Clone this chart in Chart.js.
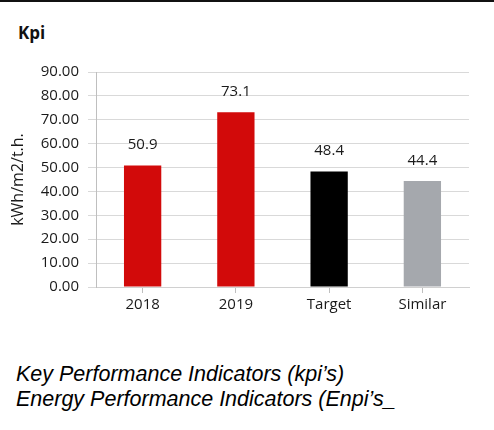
<!DOCTYPE html>
<html>
<head>
<meta charset="utf-8">
<script src="https://cdn.jsdelivr.net/npm/chart.js@4.4.1/dist/chart.umd.min.js"></script>
<style>
  body { margin: 0; background: #fff; }
  .page { position: relative; width: 494px; height: 430px; overflow: hidden; }
  .top-line { position: absolute; left: 0; top: 0; width: 494px; height: 2px; background: #111; }
  .kpi-title { position: absolute; left: 18px; top: 21px; font: bold 17px "Open Sans", sans-serif; color: #111; }
  .chart-box { position: absolute; left: 0; top: 0; width: 494px; height: 320px; }
  .caption { position: absolute; left: 16px; top: 362px; font: italic 21.5px "Liberation Sans", Arial, sans-serif; line-height: 25px; color: #000; }
</style>
</head>
<body>
<div class="page">
  <div class="top-line"></div>
  <div class="kpi-title">Kpi</div>
  <div class="chart-box"><canvas id="myChart" width="494" height="320"></canvas></div>
  <div class="caption">Key Performance Indicators (kpi’s)<br>Energy Performance Indicators (Enpi’s_</div>
</div>
<script>
const categories = ['2018', '2019', 'Target', 'Similar']
const values = [50.9, 73.1, 48.4, 44.4]
const barColors = ['#d20a0a', '#d20a0a', '#000000', '#a5a8ad']
const yTitle = 'kWh/m2/t.h.'

const valueLabels = {
    id: 'valueLabels',
    afterDatasetsDraw(chart) {
        const ctx = chart.ctx
        const meta = chart.getDatasetMeta(0)
        ctx.save()
        ctx.font = '15px "Open Sans", sans-serif'
        ctx.fillStyle = '#1a1a1a'
        ctx.textAlign = 'center'
        ctx.textBaseline = 'bottom'
        meta.data.forEach((bar, i) => {
            ctx.fillText(values[i].toFixed(1), bar.x, bar.y - 13)
        })
        ctx.restore()
    }
}

var ctx = document.getElementById('myChart').getContext('2d')
var myChart = new Chart(ctx, {
    type: 'bar',
    data: {
        labels: categories,
        datasets: [{
            data: values,
            backgroundColor: barColors,
            barPercentage: 0.8,
            categoryPercentage: 0.5
        }]
    },
    plugins: [valueLabels],
    options: {
        responsive: false,
        animation: false,
        layout: { padding: { top: 72, right: 25, left: 0, bottom: 0 } },
        plugins: {
            legend: { display: false },
            tooltip: { enabled: false }
        },
        scales: {
            x: {
                afterFit: (scale) => { scale.height = 33 },
                grid: { display: true, drawOnChartArea: false, offset: false, tickLength: 6, color: '#bfbfbf' },
                border: { color: '#d0d0d0' },
                ticks: { color: '#1a1a1a', padding: 3, font: { family: 'Open Sans', size: 15 } }
            },
            y: {
                min: 0,
                max: 90,
                afterFit: (scale) => { scale.width = 96 },
                ticks: {
                    stepSize: 10,
                    padding: 9,
                    color: '#1a1a1a',
                    font: { family: 'Open Sans', size: 15 },
                    callback: (v) => v.toFixed(2)
                },
                grid: { color: '#d9d9d9', tickLength: 8 },
                border: { color: '#bfbfbf' },
                title: {
                    display: true,
                    text: yTitle,
                    color: '#1a1a1a',
                    font: { family: 'Open Sans', size: 16 },
                    padding: { top: 9, bottom: 0 }
                }
            }
        }
    }
})
</script>
</body>
</html>
